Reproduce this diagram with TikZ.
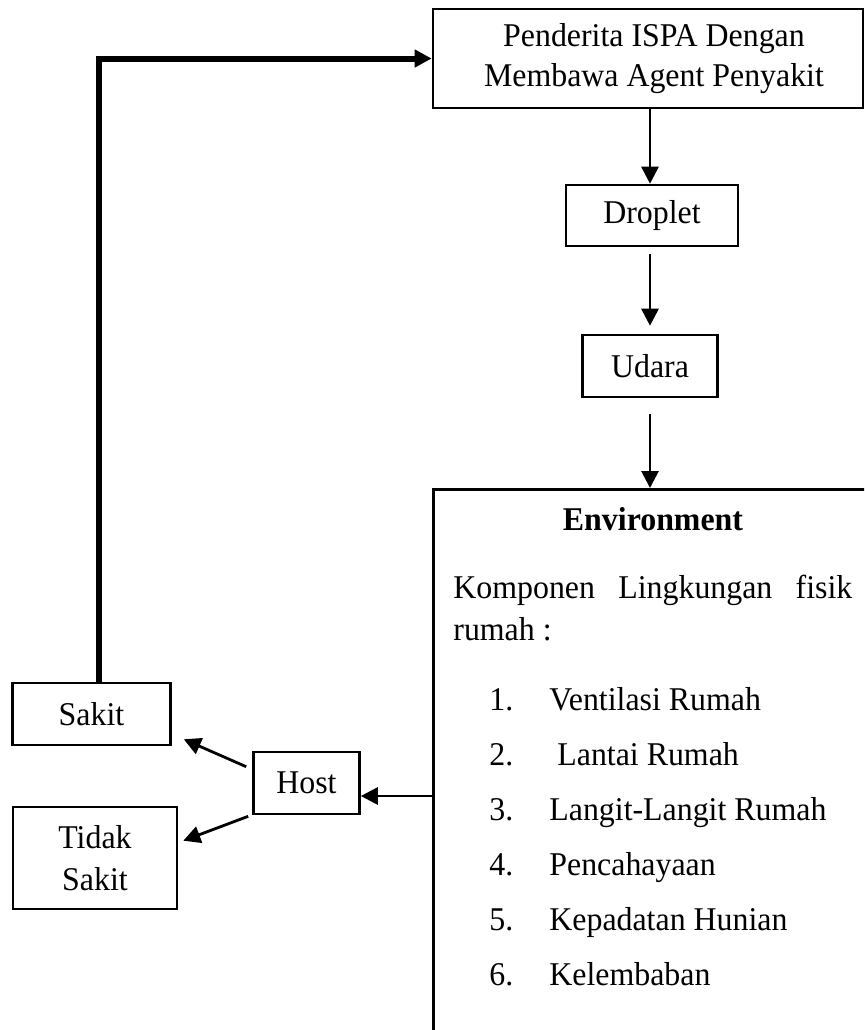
\documentclass[tikz,border=0pt]{standalone}
\usepackage{fontspec}
\setmainfont{Liberation Serif}[FakeStretch=0.96]
\usetikzlibrary{arrows.meta,calc}
\begin{document}
\begin{tikzpicture}[x=0.5pt,y=-0.5pt,
  box/.style={draw,line width=1.3pt,inner sep=0pt,align=center,font=\fontsize{16.6}{20}\selectfont},
  txt/.style={inner sep=0pt,anchor=base west,font=\fontsize{16.6}{20}\selectfont},
  arr/.style={line width=1.4pt,-{Triangle[length=8.5pt,width=8.5pt]}},
  fatarr/.style={line width=3pt,-{Triangle[length=8.5pt,width=8.5pt]}}]
\useasboundingbox (0,0) rectangle (864,1030);
\clip (0,0) rectangle (864,1030);
% boxes
\node[box,minimum width=215pt,minimum height=49.5pt] (pend) at (648,58.5)
  {\hspace*{6pt}Penderita ISPA Dengan\\\hspace*{6pt}Membawa Agent Penyakit};
\node[box,minimum width=86pt,minimum height=30.5pt] (drop) at (652,215.5) {Droplet};
\node[box,minimum width=67.5pt,minimum height=31pt] (udara) at (650,366) {Udara};
\node[box,minimum width=224pt,minimum height=280pt,anchor=north west] (env) at (432,488) {};
\node[box,minimum width=53pt,minimum height=31pt] (host) at (306.5,783) {Host};
\node[box,minimum width=79pt,minimum height=31pt] (sakit) at (91.5,714) {Sakit};
\node[box,minimum width=82pt,minimum height=51pt,font=\fontsize{16.6}{21}\selectfont] (tidak) at (95,858) {Tidak\\Sakit};
% environment contents
\node[txt,anchor=base,font=\fontsize{16.6}{20}\selectfont\bfseries] (envt) at (653,530) {Environment};
\node[txt] (komp) at (453,598) {\hbox to 199.5pt{Komponen\hfill Lingkungan\hfill fisik}};
\node[txt] (rumah) at (453,640) {rumah :};
\node[txt] (n1) at (489,710) {1.};
\node[txt] (t1) at (549,710) {Ventilasi Rumah};
\node[txt] (n2) at (489,765) {2.};
\node[txt] (t2) at (557,765) {Lantai Rumah};
\node[txt] (n3) at (489,820) {3.};
\node[txt] (t3) at (549,820) {Langit-Langit Rumah};
\node[txt] (n4) at (489,875) {4.};
\node[txt] (t4) at (549,875) {Pencahayaan};
\node[txt] (n5) at (489,930) {5.};
\node[txt] (t5) at (549,930) {Kepadatan Hunian};
\node[txt] (n6) at (489,985) {6.};
\node[txt] (t6) at (549,985) {Kelembaban};
% connectors
\draw[arr] ($(drop.north |- pend.south)+(-2,0)$) -- ($(drop.north)+(-2,0)$);
\draw[arr] ($(drop.south)+(-2,7)$) -- ($(udara.north)+(0,-8)$);
\draw[arr] ($(udara.south)+(0,16)$) -- (udara.south |- env.north);
\coordinate (hin) at ($(host.east)+(0,13)$);
\draw[arr] (env.west |- hin) -- (hin);
\draw[arr] ($(host.north west)+(-6,16)$) -- ($(sakit.south east)+(12,-7)$);
\draw[arr] ($(host.south west)+(-4,1)$) -- ($(tidak.north east)+(5,35)$);
\draw[fatarr] ($(sakit.north)+(7.5,0)$) |- (pend.west);
\end{tikzpicture}
\end{document}
